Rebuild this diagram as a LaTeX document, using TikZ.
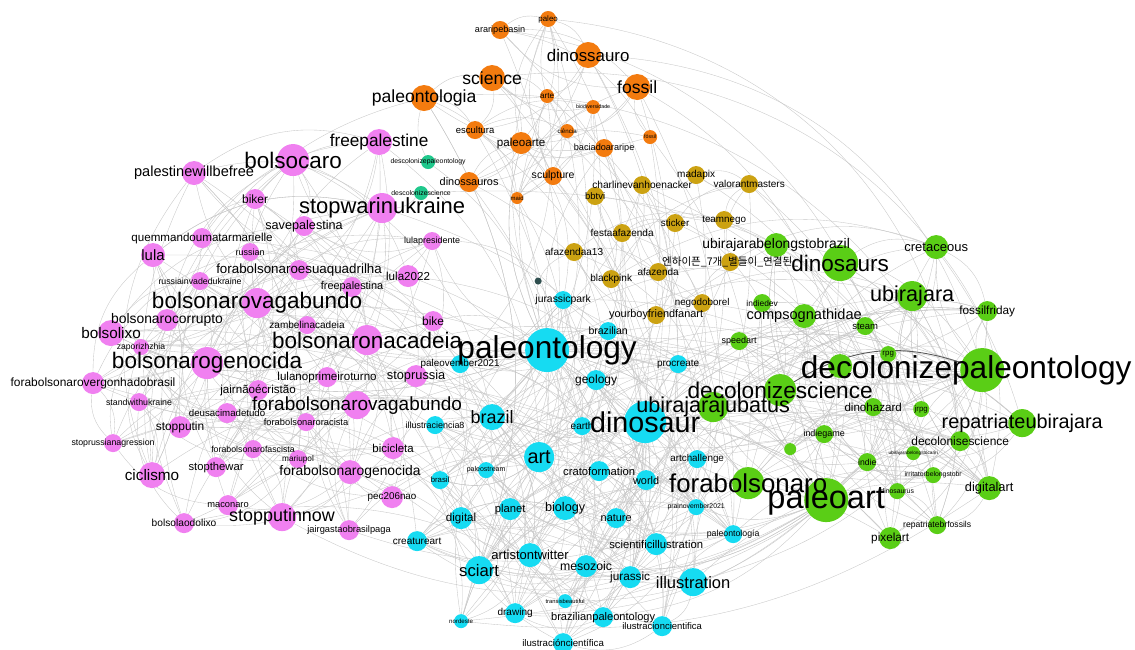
\documentclass[tikz,border=0pt]{standalone}
\usepackage{fontspec}
\setmainfont{Liberation Sans}
\newfontfamily\kr{Noto Sans CJK KR}
\pgfdeclarelayer{bg}\pgfdeclarelayer{edges}\pgfdeclarelayer{dots}
\pgfsetlayers{bg,edges,dots,main}
\definecolor{cpink}{RGB}{240,128,240}
\definecolor{corange}{RGB}{243,123,15}
\definecolor{ccyan}{RGB}{22,219,242}
\definecolor{cgreen}{RGB}{90,206,22}
\definecolor{cgold}{RGB}{204,162,18}
\definecolor{cteal}{RGB}{32,200,140}
\definecolor{cdark}{RGB}{47,79,79}
\tikzset{
 dot/.style={circle, inner sep=0pt, draw=none},
 lab/.style={inner sep=0pt, text=black},
 edge/.style={draw=black!22, line width=0.2pt},
 strong/.style={draw=black!65, line width=0.5pt}
}
\newcommand\hn[8][]{%
 \begin{pgfonlayer}{dots}\node[dot, minimum size=#5*0.4mm, fill=#6] (#2) at ({#3*0.02},{-#4*0.02}) {};\end{pgfonlayer}%
 \node[lab, font=\fontsize{#7}{#7}\selectfont, #1] (#2t) at (#2) {#8};}
\begin{document}
\begin{tikzpicture}
\useasboundingbox (0,0) rectangle (22.7,-12.98);
\begin{pgfonlayer}{bg}\fill[white] (0,0) rectangle (22.7,-12.98);\end{pgfonlayer}
% ---- pink
\hn{P1}{293}{160}{16}{cpink}{12.8}{bolsocaro}
\hn{P2}{379}{142}{13}{cpink}{9.8}{freepalestine}
\hn{P3}{194}{173}{12}{cpink}{8.3}{palestinewillbefree}
\hn{P4}{255}{199}{10}{cpink}{6.8}{biker}
\hn{P5}{382}{208}{15}{cpink}{12.5}{stopwarinukraine}
\hn{P6}{304}{226}{10}{cpink}{7.2}{savepalestina}
\hn{P7}{202}{238}{10}{cpink}{6.6}{quemmandoumatarmarielle}
\hn{P8}{153}{255}{12}{cpink}{8.5}{lula}
\hn{P9}{250}{252}{9}{cpink}{5.1}{russian}
\hn{P10}{432}{241}{9}{cpink}{5.1}{lulapresidente}
\hn{P11}{299}{270}{10}{cpink}{7.6}{forabolsonaroesuaquadrilha}
\hn{P12}{200}{281}{9}{cpink}{5}{russiainvadedukraine}
\hn{P13}{408}{276}{11}{cpink}{6.6}{lula2022}
\hn{P14}{352}{287}{10}{cpink}{6.2}{freepalestina}
\hn{P15}{257}{303}{15}{cpink}{12.8}{bolsonarovagabundo}
\hn{P16}{167}{320}{11}{cpink}{7.9}{bolsonarocorrupto}
\hn{P17}{307}{325}{9}{cpink}{5.7}{zambelinacadeia}
\hn{P18}{433}{321}{10}{cpink}{6.8}{bike}
\hn{P19}{111}{333}{13}{cpink}{8.7}{bolsolixo}
\hn{P20}{367}{340}{15}{cpink}{12.8}{bolsonaronacadeia}
\hn{P21}{141}{347}{8}{cpink}{4.9}{zaporizhzhia}
\hn{P22}{207}{363}{16}{cpink}{12.8}{bolsonarogenocida}
\hn{P23}{93}{383}{11}{cpink}{6.8}{forabolsonarovergonhadobrasil}
\hn{P24}{327}{377}{10}{cpink}{6.6}{lulanoprimeiroturno}
\hn{P25}{416}{376}{11}{cpink}{7.3}{stoprussia}
\hn{P26}{258}{390}{10}{cpink}{6.6}{jairnãoécristão}
\hn{P27}{139}{402}{9}{cpink}{5}{standwithukraine}
\hn{P28}{357}{405}{14}{cpink}{10.8}{forabolsonarovagabundo}
\hn{P29}{227}{413}{10}{cpink}{5.5}{deusacimadetudo}
\hn{P30}{306}{422}{9}{cpink}{5.3}{forabolsonaroracista}
\hn{P31}{180}{427}{11}{cpink}{6.8}{stopputin}
\hn{P32}{113}{443}{9}{cpink}{5}{stoprussianagression}
\hn{P33}{253}{449}{9}{cpink}{5}{forabolsonarofascista}
\hn{P34}{393}{448}{11}{cpink}{6.5}{bicicleta}
\hn{P35}{298}{459}{9}{cpink}{4.7}{mariupol}
\hn{P36}{216}{467}{10}{cpink}{6.4}{stopthewar}
\hn{P37}{152}{475}{13}{cpink}{8.7}{ciclismo}
\hn{P38}{350}{472}{12}{cpink}{7.9}{forabolsonarogenocida}
\hn{P39}{392}{497}{11}{cpink}{5.6}{pec206nao}
\hn{P40}{228}{505}{10}{cpink}{5.3}{maconaro}
\hn{P41}{282}{517}{14}{cpink}{10.2}{stopputinnow}
\hn{P42}{184}{523}{10}{cpink}{5.8}{bolsolaodolixo}
\hn{P43}{349}{530}{10}{cpink}{5.3}{jairgastaobrasilpaga}
% ---- orange
\hn{O1}{500}{30}{9}{corange}{5.2}{araripebasin}
\hn{O2}{548}{19}{8}{corange}{4.5}{paleo}
\hn{O3}{588}{55}{13}{corange}{9.6}{dinossauro}
\hn{O4}{492}{78}{13}{corange}{10}{science}
\hn{O5}{424}{98}{13}{corange}{10}{paleontologia}
\hn{O6}{547}{96}{7}{corange}{4.6}{arte}
\hn{O7}{637}{87}{13}{corange}{10}{fossil}
\hn{O8}{593}{107}{7}{corange}{3}{biodiversidade}
\hn{O9}{475}{130}{9}{corange}{5.4}{escultura}
\hn{O10}{567}{131}{7}{corange}{3.5}{ciência}
\hn{O11}{521}{143}{11}{corange}{6.6}{paleoarte}
\hn{O12}{650}{137}{7}{corange}{3}{fóssil}
\hn{O13}{604}{148}{9}{corange}{5.2}{baciadoararipe}
\hn{O14}{469}{182}{10}{corange}{6.2}{dinossauros}
\hn{O15}{553}{176}{9}{corange}{6}{sculpture}
\hn{O16}{517}{198}{6}{corange}{3.4}{maid}
\hn{T1}{428}{162}{7}{cteal}{3.9}{descolonizepaleontology}
\hn{T2}{421}{193}{7}{cteal}{3.9}{descolonizescience}
% ---- gold
\hn{Y1}{696}{175}{9}{cgold}{5.7}{madapix}
\hn{Y2}{642}{185}{9}{cgold}{5.8}{charlinevanhoenacker}
\hn{Y3}{749}{184}{9}{cgold}{5.7}{valorantmasters}
\hn{Y4}{595}{196}{9}{cgold}{5.4}{bbtvi}
\hn{Y5}{724}{220}{9}{cgold}{5.6}{teamnego}
\hn{Y6}{675}{223}{9}{cgold}{5.6}{sticker}
\hn{Y7}{622}{233}{9}{cgold}{5.7}{festaafazenda}
\hn{Y8}{574}{252}{9}{cgold}{5.7}{afazendaa13}
\hn{Y9}{730}{262}{9}{cgold}{6}{{\kr 엔하이픈\_7개\_별들이\_연결된\_}}
\hn{Y10}{611}{279}{9}{cgold}{5.7}{blackpink}
\hn{Y11}{658}{272}{9}{cgold}{5.7}{afazenda}
\hn{Y12}{702}{303}{9}{cgold}{5.6}{negodoborel}
\hn{Y13}{656}{315}{9}{cgold}{6.2}{yourboyfriendfanart}
% ---- cyan
\hn{C1}{547}{350}{22}{ccyan}{18}{paleontology}
\hn{C2}{645}{422}{21}{ccyan}{16.3}{dinosaur}
\hn{C3}{563}{300}{9}{ccyan}{5.9}{jurassicpark}
\hn{C4}{608}{331}{9}{ccyan}{6}{brazilian}
\hn{C5}{460}{364}{9}{ccyan}{5.6}{paleovember2021}
\hn{C6}{678}{364}{9}{ccyan}{5.7}{procreate}
\hn{C7}{596}{380}{10}{ccyan}{6.8}{geology}
\hn{C8}{492}{417}{13}{ccyan}{10.2}{brazil}
\hn{C9}{435}{425}{9}{ccyan}{5.1}{illustraciencia8}
\hn{C10}{582}{426}{9}{ccyan}{5.7}{earth}
\hn{C11}{539}{457}{15}{ccyan}{11.3}{art}
\hn{C12}{486}{470}{8}{ccyan}{4}{paleostream}
\hn{C13}{440}{480}{9}{ccyan}{4.4}{brasil}
\hn{C14}{599}{471}{10}{ccyan}{6.4}{cratoformation}
\hn{C15}{646}{480}{10}{ccyan}{6.2}{world}
\hn{C16}{697}{459}{9}{ccyan}{5.6}{artchallenge}
\hn{C17}{565}{508}{12}{ccyan}{7.2}{biology}
\hn{C18}{510}{509}{11}{ccyan}{6.4}{planet}
\hn{C19}{461}{518}{11}{ccyan}{6.6}{digital}
\hn{C20}{616}{518}{10}{ccyan}{6.2}{nature}
\hn{C21}{696}{507}{8}{ccyan}{3.9}{prainovember2021}
\hn{C22}{417}{541}{10}{ccyan}{5.7}{creatureart}
\hn{C23}{733}{534}{9}{ccyan}{5}{paleontología}
\hn{C24}{656}{544}{11}{ccyan}{6.4}{scientificillustration}
\hn{C25}{530}{555}{12}{ccyan}{7.4}{artistontwitter}
\hn{C26}{586}{566}{11}{ccyan}{7}{mesozoic}
\hn{C27}{479}{570}{14}{ccyan}{9.5}{sciart}
\hn{C28}{693}{582}{14}{ccyan}{9.4}{illustration}
\hn{C29}{630}{577}{11}{ccyan}{6.7}{jurassic}
\hn{C30}{565}{601}{7}{ccyan}{3.3}{transisbeautiful}
\hn{C31}{515}{613}{10}{ccyan}{5.7}{drawing}
\hn{C32}{603}{617}{10}{ccyan}{6.3}{brazilianpaleontology}
\hn{C33}{662}{626}{10}{ccyan}{5.4}{ilustracioncientifica}
\hn{C34}{563}{643}{10}{ccyan}{5.5}{ilustracióncientífica}
\hn{C35}{461}{621}{7}{ccyan}{3.5}{nordeste}
\hn{D1}{538}{281}{3.5}{cdark}{3}{}
% ---- green
\hn{G1}{776}{245}{12}{cgreen}{7.9}{ubirajarabelongstobrazil}
\hn{G2}{840}{263}{18}{cgreen}{12.8}{dinosaurs}
\hn{G3}{936}{247}{12}{cgreen}{7.4}{cretaceous}
\hn{G4}{912}{296}{15}{cgreen}{12.3}{ubirajara}
\hn{G5}{762}{303}{9}{cgreen}{4.8}{indiedev}
\hn{G6}{804}{316}{12}{cgreen}{8.3}{compsognathidae}
\hn{G7}{987}{311}{10}{cgreen}{6.7}{fossilfriday}
\hn{G8}{865}{326}{9}{cgreen}{5.4}{steam}
\hn{G9}{739}{341}{9}{cgreen}{5.1}{speedart}
\hn{G10}{888}{354}{8}{cgreen}{4.5}{rpg}
\hn{G11}{840}{366}{12}{cgreen}{4}{}
\hn[xshift=-3.2mm]{G12}{982}{370}{22}{cgreen}{18}{decolonizepaleontology}
\hn{G13}{780}{390}{16}{cgreen}{12.9}{decolonizescience}
\hn{G14}{713}{407}{15}{cgreen}{12.3}{ubirajarajubatus}
\hn{G15}{873}{407}{9}{cgreen}{6.6}{dinohazard}
\hn{G16}{921}{409}{8}{cgreen}{4.5}{jrpg}
\hn{G17}{1022}{423}{14}{cgreen}{11.3}{repatriateubirajara}
\hn{G18}{824}{434}{9}{cgreen}{5.1}{indiegame}
\hn{G19}{960}{441}{10}{cgreen}{6.8}{decolonisescience}
\hn{G20}{790}{449}{6}{cgreen}{3}{}
\hn{G21}{913}{453}{7}{cgreen}{2.7}{ubirajarabelongstocariri}
\hn{G22}{867}{462}{9}{cgreen}{4.9}{indie}
\hn{G23}{933}{475}{8}{cgreen}{3.9}{irritatorbelongstobr}
\hn{G24}{748}{483}{16}{cgreen}{14.7}{forabolsonaro}
\hn{G25}{989}{488}{12}{cgreen}{7.3}{digitalart}
\hn{G26}{897}{491}{8}{cgreen}{3.9}{dinosaurus}
\hn{G27}{826}{500}{22}{cgreen}{18.5}{paleoart}
\hn{G28}{937}{525}{9}{cgreen}{4.9}{repatriatebrfossils}
\hn{G29}{890}{538}{11}{cgreen}{6.7}{pixelart}
% ---- edges
\begin{pgfonlayer}{edges}
\pgfmathsetseed{20}
\foreach \i in {1,...,43}{\foreach \k in {1,...,4}{\pgfmathrandominteger{\j}{1}{43}\ifnum\j=\i\relax\else\draw[edge] (P\i) to[bend left=25] (P\j);\fi}}
\foreach \i in {1,...,35}{\foreach \k in {1,...,4}{\pgfmathrandominteger{\j}{1}{35}\ifnum\j=\i\relax\else\draw[edge] (C\i) to[bend left=25] (C\j);\fi}}
\foreach \i in {1,...,29}{\foreach \k in {1,...,4}{\pgfmathrandominteger{\j}{1}{29}\ifnum\j=\i\relax\else\draw[edge] (G\i) to[bend left=25] (G\j);\fi}}
\foreach \i in {1,...,16}{\foreach \k in {1,...,3}{\pgfmathrandominteger{\j}{1}{16}\ifnum\j=\i\relax\else\draw[edge] (O\i) to[bend left=25] (O\j);\fi}}
\foreach \i in {1,...,13}{\foreach \k in {1,2}{\pgfmathrandominteger{\j}{1}{13}\ifnum\j=\i\relax\else\draw[edge] (Y\i) to[bend left=25] (Y\j);\fi}}
\foreach \i in {1,...,16}{\foreach \k in {1,2}{\pgfmathrandominteger{\j}{1}{35}\draw[edge] (O\i) to[bend left=25] (C\j);}}
\foreach \i in {1,...,13}{\pgfmathrandominteger{\j}{1}{35}\draw[edge] (Y\i) to[bend left=25] (C\j);
  \pgfmathrandominteger{\j}{1}{29}\draw[edge] (Y\i) to[bend left=25] (G\j);}
\foreach \i in {1,...,43}{\pgfmathrandominteger{\j}{1}{35}\draw[edge] (P\i) to[bend left=25] (C\j);}
\foreach \i in {1,...,35}{\pgfmathrandominteger{\j}{1}{29}\draw[edge] (C\i) to[bend left=25] (G\j);}
\foreach \k in {1,...,15}{\pgfmathrandominteger{\j}{2}{35}\draw[edge] (C1) to[bend left=20] (C\j);}
\foreach \k in {1,...,10}{\pgfmathrandominteger{\j}{1}{43}\draw[edge] (C1) to[bend left=20] (P\j);}
\foreach \k in {1,...,10}{\pgfmathrandominteger{\j}{1}{29}\draw[edge] (C1) to[bend left=20] (G\j);}
\foreach \k in {1,...,5}{\pgfmathrandominteger{\j}{1}{16}\draw[edge] (C1) to[bend left=20] (O\j);}
\foreach \k in {1,...,10}{\pgfmathrandominteger{\j}{3}{35}\draw[edge] (C2) to[bend left=20] (C\j);}
\foreach \k in {1,...,10}{\pgfmathrandominteger{\j}{1}{29}\draw[edge] (C2) to[bend left=20] (G\j);}
\foreach \k in {1,...,10}{\pgfmathrandominteger{\j}{1}{35}\draw[edge] (G27) to[bend left=20] (C\j);}
\foreach \k in {1,...,8}{\pgfmathrandominteger{\j}{1}{26}\draw[edge] (G27) to[bend left=20] (G\j);}
\foreach \k in {1,...,10}{\pgfmathrandominteger{\j}{1}{11}\draw[edge] (G12) to[bend left=20] (G\j);}
\foreach \k in {1,...,5}{\pgfmathrandominteger{\j}{1}{35}\draw[edge] (G12) to[bend left=20] (C\j);}
\draw[edge] (O7) to[bend left=35] (G27);
\draw[edge] (O3) to[bend left=35] (G12);
\draw[edge] (O4) to[bend left=40] (G17);
\draw[edge] (O5) to[bend left=40] (G25);
\draw[edge] (Y3) to[bend left=30] (G27);
\draw[edge] (O1) to[bend left=45] (G29);
\draw[edge] (O2) to[bend left=40] (G19);
\draw[edge] (P1) to[bend right=35] (P42);
\draw[edge] (P3) to[bend right=30] (P37);
\draw[edge] (P2) to[bend right=40] (P41);
\draw[edge] (O5) to[bend right=40] (P37);
\draw[edge] (P41) to[bend right=30] (G27);
\draw[edge] (C22) to[bend right=25] (G27);
\draw[edge] (P43) to[bend right=25] (G24);
\draw[edge] (C27) to[bend right=20] (G27);
\draw[edge] (C35) to[bend right=20] (G25);
\draw[edge] (T1) to[bend left=20] (O5);
\draw[edge] (T1) to[bend left=20] (C1);
\draw[edge] (T2) to[bend left=20] (P5);
\draw[edge] (T2) to[bend left=20] (G12);
\draw[edge] (D1) to[bend left=20] (C1);
\draw[edge] (D1) to[bend left=20] (Y8);
\draw[strong] (G13) to[bend left=25] (G12);
\end{pgfonlayer}
\end{tikzpicture}
\end{document}
